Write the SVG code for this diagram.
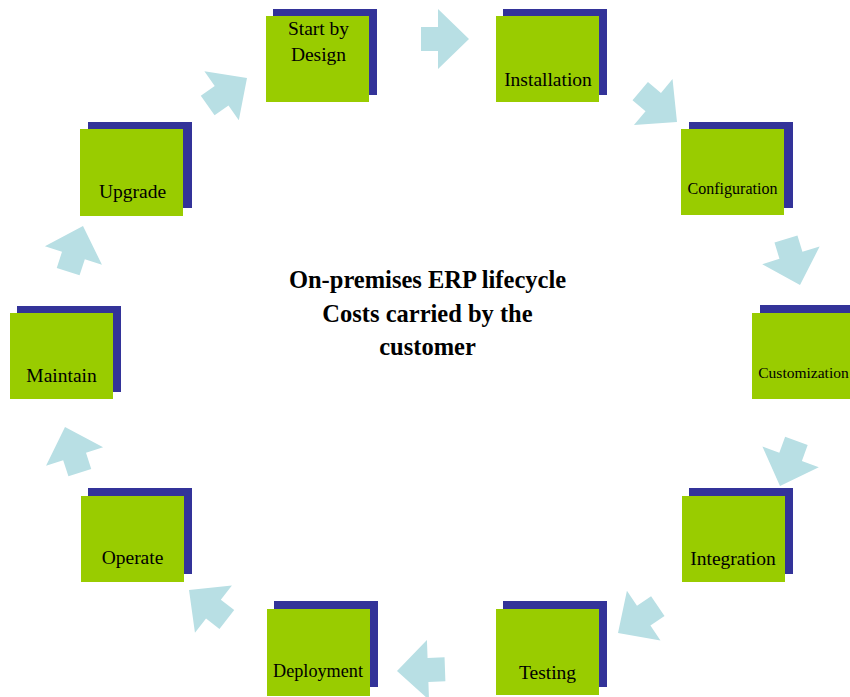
<svg xmlns="http://www.w3.org/2000/svg" width="850" height="697" viewBox="0 0 850 697">
<defs>
<style>
.sh{fill:#333399}
.bx{fill:#99CC00}
.lb{font-family:"Liberation Serif","Times New Roman",serif;font-size:19.5px;fill:#000;text-anchor:middle}
.sm{font-size:16px}
.xs{font-size:15.5px}
.md{font-size:18.2px}
.ti{font-family:"Liberation Serif","Times New Roman",serif;font-size:24.5px;font-weight:bold;fill:#000;text-anchor:middle}
.ar{fill:#B8DFE4}
</style>
<path id="arr" d="M0,0 L-31,-30 L-31,-12 L-48,-12 L-48,12 L-31,12 L-31,30 Z"/>
</defs>
<rect width="850" height="697" fill="#fff"/>
<g id="connectors">
<use href="#arr" class="ar" transform="translate(469,39) rotate(0)"/>
<use href="#arr" class="ar" transform="translate(677,122) rotate(40)"/>
<use href="#arr" class="ar" transform="translate(800,285) rotate(73)"/>
<use href="#arr" class="ar" transform="translate(780,486) rotate(110)"/>
<use href="#arr" class="ar" transform="translate(618,633) rotate(146)"/>
<use href="#arr" class="ar" transform="translate(397,671) rotate(178)"/>
<use href="#arr" class="ar" transform="translate(189,590) rotate(218)"/>
<use href="#arr" class="ar" transform="translate(65,427) rotate(252)"/>
<use href="#arr" class="ar" transform="translate(83,226) rotate(288)"/>
<use href="#arr" class="ar" transform="translate(247,78) rotate(-35)"/>
</g>
<g id="n-start"><rect class="sh" x="273" y="9" width="104" height="86"/><rect class="bx" x="266" y="16" width="103" height="86"/><text class="lb" x="318.5" y="35">Start by</text><text class="lb" x="318.5" y="61">Design</text></g>
<g id="n-installation"><rect class="sh" x="503" y="9" width="104" height="86"/><rect class="bx" x="496" y="16" width="103" height="86"/><text class="lb" x="548" y="86">Installation</text></g>
<g id="n-configuration"><rect class="sh" x="689" y="122" width="104" height="86"/><rect class="bx" x="681" y="129" width="103" height="86"/><text class="lb sm" x="732.5" y="194">Configuration</text></g>
<g id="n-customization"><rect class="sh" x="760" y="305" width="104" height="86"/><rect class="bx" x="752" y="313" width="103" height="86"/><text class="lb xs" x="803.5" y="378">Customization</text></g>
<g id="n-integration"><rect class="sh" x="689" y="488" width="104" height="86"/><rect class="bx" x="682" y="496" width="103" height="86"/><text class="lb" x="733" y="565">Integration</text></g>
<g id="n-testing"><rect class="sh" x="503" y="601" width="104" height="86"/><rect class="bx" x="496" y="609" width="103" height="86"/><text class="lb" x="547.5" y="679">Testing</text></g>
<g id="n-deployment"><rect class="sh" x="274" y="601" width="104" height="86"/><rect class="bx" x="267" y="609" width="103" height="87"/><text class="lb md" x="318" y="677">Deployment</text></g>
<g id="n-operate"><rect class="sh" x="88" y="488" width="104" height="86"/><rect class="bx" x="81" y="496" width="103" height="86"/><text class="lb" x="132.5" y="564">Operate</text></g>
<g id="n-maintain"><rect class="sh" x="17" y="306" width="104" height="86"/><rect class="bx" x="10" y="313" width="103" height="86"/><text class="lb" x="61.5" y="382">Maintain</text></g>
<g id="n-upgrade"><rect class="sh" x="88" y="122" width="104" height="86"/><rect class="bx" x="80" y="129" width="103" height="87"/><text class="lb" x="132.5" y="198">Upgrade</text></g>
<g id="title"><text class="ti" x="427.5" y="288">On-premises ERP lifecycle</text><text class="ti" x="427.5" y="322">Costs carried by the</text><text class="ti" x="427.5" y="355">customer</text></g>
</svg>
